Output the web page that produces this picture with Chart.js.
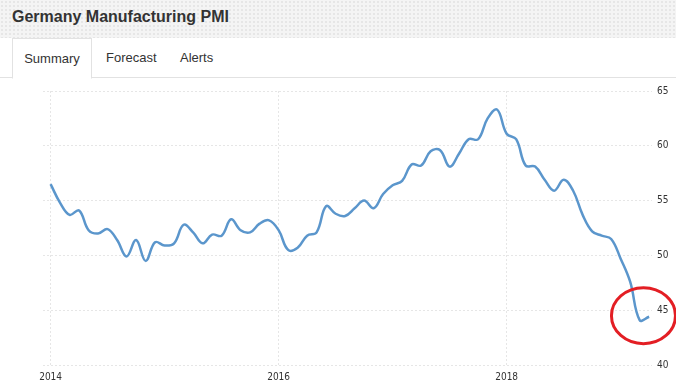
<!DOCTYPE html>
<html>
<head>
<meta charset="utf-8">
<script src="https://cdn.jsdelivr.net/npm/chart.js@4.4.1/dist/chart.umd.min.js"></script>
<style>
  html, body { margin: 0; padding: 0; background: #fff; }
  body { width: 676px; height: 385px; position: relative; overflow: hidden; font-family: "Liberation Sans", Arial, sans-serif; }
  .header {
    position: absolute; left: 0; top: 0; width: 676px; height: 38px;
    background-color: #f4f4f4;
    background-image: radial-gradient(#e6e6e6 0.8px, transparent 0.9px);
    background-size: 4px 4px;
  }
  .header h1 { margin: 0; position: absolute; left: 12px; top: 8px; font-size: 16px; font-weight: bold; color: #333; }
  .tabs { position: absolute; left: 0; top: 38px; width: 676px; height: 40px; border-bottom: 1px solid #e2e2e2; box-sizing: border-box; }
  .tab { position: absolute; top: 0; height: 40px; line-height: 40px; font-size: 13px; color: #333; }
  .tab.active { left: 12px; width: 80px; box-sizing: border-box; border: 1px solid #e2e2e2; border-bottom: 1px solid #fff; background: #fff; text-align: center; height: 41px; }
  #wrap { position: absolute; left: 0; top: 80px; width: 676px; height: 305px; }
</style>
</head>
<body>
<div class="header"><h1>Germany Manufacturing PMI</h1></div>
<div class="tabs">
  <div class="tab active">Summary</div>
  <div class="tab" style="left:106px">Forecast</div>
  <div class="tab" style="left:180px">Alerts</div>
</div>
<div id="wrap"><canvas id="chart" width="676" height="305"></canvas></div>
<script>
// Monthly PMI, Jan 2014 .. Apr 2019
const pmi2014 = [56.5, 54.8, 53.7, 54.1, 52.3, 52.0, 52.4, 51.4, 49.9, 51.4, 49.5, 51.2];
const pmi2015 = [50.9, 51.1, 52.8, 52.1, 51.1, 51.9, 51.8, 53.3, 52.3, 52.1, 52.9, 53.2];
const pmi2016 = [52.3, 50.5, 50.7, 51.8, 52.1, 54.5, 53.8, 53.6, 54.3, 55.0, 54.3, 55.6];
const pmi2017 = [56.4, 56.8, 58.3, 58.2, 59.5, 59.6, 58.1, 59.3, 60.6, 60.6, 62.5, 63.3];
const pmi2018 = [61.1, 60.6, 58.2, 58.1, 56.9, 55.9, 56.9, 55.9, 53.7, 52.2, 51.8, 51.5];
const pmi2019 = [49.7, 47.6, 44.1, 44.4];
const startYear = 2014;
const yearTicks = [2014, 2016, 2018];
const yTicks = [40, 45, 50, 55, 60, 65];

const values = [].concat(pmi2014, pmi2015, pmi2016, pmi2017, pmi2018, pmi2019);
const points = values.map((v, i) => ({ x: i, y: v }));

// red hand-drawn circle round the last points
const circlePlugin = {
  id: 'circle',
  afterDatasetsDraw(chart) {
    const { ctx, scales } = chart;
    const cx = scales.x.getPixelForValue(62.4);
    const cy = scales.y.getPixelForValue(44.5);
    ctx.save();
    ctx.strokeStyle = '#e31e24';
    ctx.lineWidth = 3;
    ctx.beginPath();
    ctx.ellipse(cx, cy, 32, 28, 0, 0, Math.PI * 2);
    ctx.stroke();
    ctx.restore();
  }
};

const gridDash = { color: '#e6e6e6', lineWidth: 1, drawTicks: false };

new Chart(document.getElementById('chart'), {
  type: 'line',
  data: {
    datasets: [{
      data: points,
      borderColor: '#5b96cc',
      borderWidth: 2.5,
      pointRadius: 0,
      tension: 0.4,
      fill: false
    }]
  },
  options: {
    responsive: false,
    animation: false,
    layout: { padding: { left: 43, top: 9, right: 0, bottom: 0 } },
    plugins: { legend: { display: false }, tooltip: { enabled: false } },
    scales: {
      x: {
        type: 'linear',
        min: -0.8,
        max: 63.3,
        afterBuildTicks: (s) => { s.ticks = yearTicks.map(y => ({ value: (y - startYear) * 12 })); },
        afterFit: (s) => { s.height = 20; },
        border: { display: false, dash: [2, 2] },
        grid: gridDash,
        ticks: {
          padding: 6,
          color: '#333',
          font: { family: 'DejaVu Sans Condensed', size: 10 },
          callback: (v) => String(startYear + v / 12)
        }
      },
      y: {
        position: 'right',
        min: 40,
        max: 65,
        afterBuildTicks: (s) => { s.ticks = yTicks.map(v => ({ value: v })); },
        afterFit: (s) => { s.width = 24; },
        border: { display: false, dash: [2, 2] },
        grid: gridDash,
        ticks: {
          padding: 5,
          color: '#333',
          font: { family: 'DejaVu Sans Condensed', size: 10 }
        }
      }
    }
  },
  plugins: [circlePlugin]
});
</script>
</body>
</html>
